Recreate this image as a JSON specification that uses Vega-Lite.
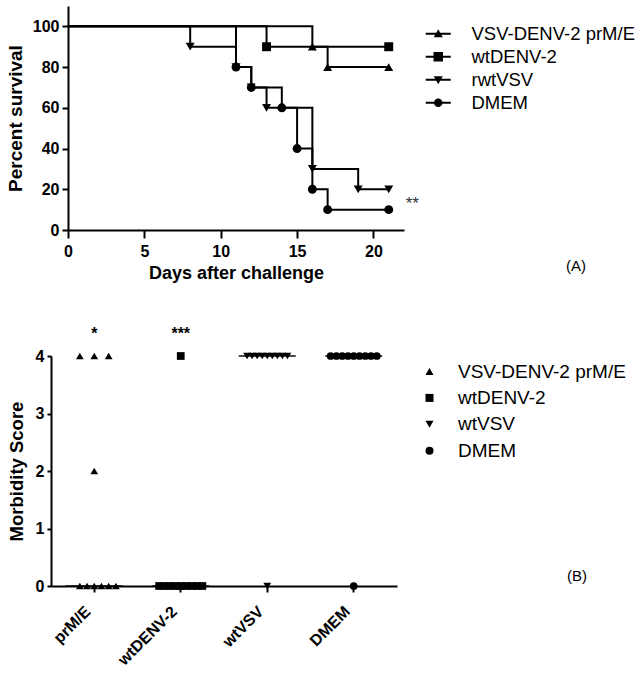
{
  "$schema": "https://vega.github.io/schema/vega-lite/v6.json",
  "padding": {"left": 6, "top": 6, "right": 0, "bottom": 0},
  "background": "white",
  "spacing": 44,
  "resolve": {"scale": {"shape": "independent"}, "legend": {"shape": "independent"}},
  "datasets": {
    "surv": [
      {"group": "VSV-DENV-2 prM/E", "day": 0, "pct": 100},
      {"group": "VSV-DENV-2 prM/E", "day": 16, "pct": 90},
      {"group": "VSV-DENV-2 prM/E", "day": 17, "pct": 80},
      {"group": "VSV-DENV-2 prM/E", "day": 21, "pct": 80},
      {"group": "wtDENV-2", "day": 0, "pct": 100},
      {"group": "wtDENV-2", "day": 13, "pct": 90},
      {"group": "wtDENV-2", "day": 21, "pct": 90},
      {"group": "rwtVSV", "day": 0, "pct": 100},
      {"group": "rwtVSV", "day": 8, "pct": 90},
      {"group": "rwtVSV", "day": 11, "pct": 80},
      {"group": "rwtVSV", "day": 12, "pct": 70},
      {"group": "rwtVSV", "day": 13, "pct": 60},
      {"group": "rwtVSV", "day": 16, "pct": 30},
      {"group": "rwtVSV", "day": 19, "pct": 20},
      {"group": "rwtVSV", "day": 21, "pct": 20},
      {"group": "DMEM", "day": 0, "pct": 100},
      {"group": "DMEM", "day": 11, "pct": 80},
      {"group": "DMEM", "day": 12, "pct": 70},
      {"group": "DMEM", "day": 14, "pct": 60},
      {"group": "DMEM", "day": 15, "pct": 40},
      {"group": "DMEM", "day": 16, "pct": 20},
      {"group": "DMEM", "day": 17, "pct": 10},
      {"group": "DMEM", "day": 21, "pct": 10}
    ],
    "morb": [
      {"group": "prM/E", "legend": "VSV-DENV-2 prM/E", "score": 4, "slot": -2},
      {"group": "prM/E", "legend": "VSV-DENV-2 prM/E", "score": 4, "slot": 0},
      {"group": "prM/E", "legend": "VSV-DENV-2 prM/E", "score": 4, "slot": 2},
      {"group": "prM/E", "legend": "VSV-DENV-2 prM/E", "score": 2, "slot": 0},
      {"group": "prM/E", "legend": "VSV-DENV-2 prM/E", "score": 0, "slot": -2},
      {"group": "prM/E", "legend": "VSV-DENV-2 prM/E", "score": 0, "slot": -1},
      {"group": "prM/E", "legend": "VSV-DENV-2 prM/E", "score": 0, "slot": 0},
      {"group": "prM/E", "legend": "VSV-DENV-2 prM/E", "score": 0, "slot": 1},
      {"group": "prM/E", "legend": "VSV-DENV-2 prM/E", "score": 0, "slot": 2},
      {"group": "prM/E", "legend": "VSV-DENV-2 prM/E", "score": 0, "slot": 3},
      {"group": "wtDENV-2", "legend": "wtDENV-2", "score": 4, "slot": 0},
      {"group": "wtDENV-2", "legend": "wtDENV-2", "score": 0, "slot": -3},
      {"group": "wtDENV-2", "legend": "wtDENV-2", "score": 0, "slot": -2.25},
      {"group": "wtDENV-2", "legend": "wtDENV-2", "score": 0, "slot": -1.5},
      {"group": "wtDENV-2", "legend": "wtDENV-2", "score": 0, "slot": -0.75},
      {"group": "wtDENV-2", "legend": "wtDENV-2", "score": 0, "slot": 0},
      {"group": "wtDENV-2", "legend": "wtDENV-2", "score": 0, "slot": 0.75},
      {"group": "wtDENV-2", "legend": "wtDENV-2", "score": 0, "slot": 1.5},
      {"group": "wtDENV-2", "legend": "wtDENV-2", "score": 0, "slot": 2.25},
      {"group": "wtDENV-2", "legend": "wtDENV-2", "score": 0, "slot": 3},
      {"group": "wtVSV", "legend": "wtVSV", "score": 4, "slot": -2.8},
      {"group": "wtVSV", "legend": "wtVSV", "score": 4, "slot": -2.1},
      {"group": "wtVSV", "legend": "wtVSV", "score": 4, "slot": -1.4},
      {"group": "wtVSV", "legend": "wtVSV", "score": 4, "slot": -0.7},
      {"group": "wtVSV", "legend": "wtVSV", "score": 4, "slot": 0},
      {"group": "wtVSV", "legend": "wtVSV", "score": 4, "slot": 0.7},
      {"group": "wtVSV", "legend": "wtVSV", "score": 4, "slot": 1.4},
      {"group": "wtVSV", "legend": "wtVSV", "score": 4, "slot": 2.1},
      {"group": "wtVSV", "legend": "wtVSV", "score": 4, "slot": 2.8},
      {"group": "wtVSV", "legend": "wtVSV", "score": 0, "slot": 0},
      {"group": "DMEM", "legend": "DMEM", "score": 4, "slot": -3.2},
      {"group": "DMEM", "legend": "DMEM", "score": 4, "slot": -2.4},
      {"group": "DMEM", "legend": "DMEM", "score": 4, "slot": -1.6},
      {"group": "DMEM", "legend": "DMEM", "score": 4, "slot": -0.8},
      {"group": "DMEM", "legend": "DMEM", "score": 4, "slot": 0},
      {"group": "DMEM", "legend": "DMEM", "score": 4, "slot": 0.8},
      {"group": "DMEM", "legend": "DMEM", "score": 4, "slot": 1.6},
      {"group": "DMEM", "legend": "DMEM", "score": 4, "slot": 2.4},
      {"group": "DMEM", "legend": "DMEM", "score": 4, "slot": 3.2},
      {"group": "DMEM", "legend": "DMEM", "score": 0, "slot": 0}
    ],
    "medians": [
      {"group": "prM/E", "median": 0},
      {"group": "wtDENV-2", "median": 0},
      {"group": "wtVSV", "median": 4},
      {"group": "DMEM", "median": 4}
    ],
    "stars": [
      {"group": "prM/E", "score": 4.29, "label": "*"},
      {"group": "wtDENV-2", "score": 4.29, "label": "***"}
    ]
  },
  "config": {
    "view": {"stroke": null},
    "font": "Liberation Sans",
    "axis": {
      "domainColor": "black", "tickColor": "black", "labelColor": "black", "titleColor": "black",
      "domainWidth": 2, "tickWidth": 2, "grid": false,
      "labelFont": "Liberation Sans", "labelFontWeight": "bold", "labelFontSize": 16,
      "titleFont": "Liberation Sans", "titleFontWeight": "bold", "titleFontSize": 18
    }
  },
  "vconcat": [
    {
      "width": 336,
      "height": 224,
      "title": {"text": "(A)", "orient": "bottom", "anchor": "end", "frame": "group", "dx": 182, "dy": -23, "offset": 0, "font": "Liberation Sans", "fontSize": 15, "fontWeight": "normal", "color": "black"},
      "resolve": {"scale": {"shape": "independent"}, "legend": {"shape": "independent"}},
      "layer": [
        {
          "data": {"name": "surv"},
          "mark": {"type": "line", "interpolate": "step-after", "color": "black", "strokeWidth": 2},
          "encoding": {
            "x": {"field": "day", "type": "quantitative", "scale": {"domain": [0, 22], "nice": false},
              "axis": {"values": [0, 5, 10, 15, 20], "title": "Days after challenge", "tickSize": 8, "labelPadding": 5, "titlePadding": 5, "labelFlush": false}},
            "y": {"field": "pct", "type": "quantitative", "scale": {"domain": [0, 110], "nice": false},
              "axis": {"values": [0, 20, 40, 60, 80, 100], "title": "Percent survival", "titleFontSize": 19, "tickSize": 6, "labelPadding": 3, "titlePadding": 7, "labelFlush": false}},
            "detail": {"field": "group"}
          }
        },
        {
          "data": {"name": "surv"},
          "transform": [{"filter": "datum.day > 0"}],
          "mark": {"type": "point", "filled": true, "color": "black", "opacity": 1, "size": 80},
          "encoding": {
            "x": {"field": "day", "type": "quantitative"},
            "y": {"field": "pct", "type": "quantitative"},
            "shape": {
              "field": "group", "type": "nominal",
              "scale": {"domain": ["VSV-DENV-2 prM/E", "wtDENV-2", "rwtVSV", "DMEM"], "range": ["triangle-up", "square", "triangle-down", "circle"]},
              "legend": null
            }
          }
        },
        {
          "data": {"name": "surv"},
          "transform": [{"filter": "false"}],
          "mark": {"type": "point", "filled": true, "color": "black", "opacity": 1},
          "encoding": {
            "x": {"field": "day", "type": "quantitative"},
            "y": {"field": "pct", "type": "quantitative"},
            "shape": {
              "field": "group", "type": "nominal",
              "scale": {"domain": ["VSV-DENV-2 prM/E", "wtDENV-2", "rwtVSV", "DMEM"],
                "range": [
                  "M-2.5,-0.2H2.5V0.2H-2.5ZM0,-0.9L0.9,0.7L-0.9,0.7Z",
                  "M-2.5,-0.2H2.5V0.2H-2.5ZM-0.95,-0.95H0.95V0.95H-0.95Z",
                  "M-2.5,-0.2H2.5V0.2H-2.5ZM0,0.9L-0.9,-0.7L0.9,-0.7Z",
                  "M-2.5,-0.2H2.5V0.2H-2.5ZM0.85,0A0.85,0.85,0,1,1,-0.85,0A0.85,0.85,0,1,1,0.85,0Z"
                ]},
              "legend": {
                "title": null, "orient": "none", "legendX": 361, "legendY": 18.5,
                "symbolSize": 100, "symbolFillColor": "black", "symbolStrokeWidth": 0,
                "labelFontSize": 18.5, "labelFont": "Liberation Sans", "labelColor": "black",
                "labelOffset": 24, "labelLimit": 300, "rowPadding": 4, "padding": 0
              }
            }
          }
        },
        {
          "data": {"values": [{"day": 22.54, "pct": 10.2, "label": "**"}]},
          "mark": {"type": "text", "align": "center", "baseline": "alphabetic", "fontSize": 17, "color": "#333", "font": "Liberation Sans"},
          "encoding": {
            "x": {"field": "day", "type": "quantitative"},
            "y": {"field": "pct", "type": "quantitative"},
            "text": {"field": "label"}
          }
        }
      ]
    },
    {
      "width": 329,
      "height": 230,
      "title": {"text": "(B)", "orient": "bottom", "anchor": "end", "frame": "group", "dx": 190, "dy": -99, "offset": 0, "font": "Liberation Sans", "fontSize": 15, "fontWeight": "normal", "color": "black"},
      "layer": [
        {
          "data": {"name": "medians"},
          "mark": {"type": "tick", "color": "black", "thickness": 2, "size": 57, "orient": "horizontal"},
          "encoding": {
            "x": {"field": "group", "type": "nominal", "sort": ["prM/E", "wtDENV-2", "wtVSV", "DMEM"],
              "scale": {"type": "band", "paddingInner": 0, "paddingOuter": 0, "range": [-17, 329]},
              "axis": {"title": null, "labelAngle": -45, "tickSize": 6, "labelPadding": 11, "labelOffset": -12}},
            "y": {"field": "median", "type": "quantitative", "scale": {"domain": [0, 4], "nice": false},
              "axis": {"values": [0, 1, 2, 3, 4], "format": "d", "title": "Morbidity Score", "titleFontSize": 18.5, "offset": 17, "tickSize": 4, "labelPadding": 3, "titlePadding": 9}}
          }
        },
        {
          "data": {"name": "morb"},
          "mark": {"type": "point", "filled": true, "color": "black", "opacity": 1, "size": 60},
          "encoding": {
            "x": {"field": "group", "type": "nominal", "sort": ["prM/E", "wtDENV-2", "wtVSV", "DMEM"]},
            "xOffset": {"field": "slot", "type": "quantitative", "scale": {"domain": [-6, 6]}},
            "y": {"field": "score", "type": "quantitative"},
            "shape": {
              "field": "legend", "type": "nominal",
              "scale": {"domain": ["VSV-DENV-2 prM/E", "wtDENV-2", "wtVSV", "DMEM"], "range": ["triangle-up", "square", "triangle-down", "circle"]},
              "legend": {
                "title": null, "orient": "none", "legendX": 352, "legendY": 6,
                "symbolSize": 64, "symbolFillColor": "black", "symbolStrokeColor": "black",
                "labelFontSize": 19, "labelFont": "Liberation Sans", "labelColor": "black",
                "labelOffset": 19, "labelLimit": 300, "rowPadding": 6.4, "padding": 0
              }
            }
          }
        },
        {
          "data": {"name": "stars"},
          "mark": {"type": "text", "align": "center", "baseline": "alphabetic", "fontSize": 16, "fontWeight": "bold", "color": "black", "font": "Liberation Sans"},
          "encoding": {
            "x": {"field": "group", "type": "nominal", "sort": ["prM/E", "wtDENV-2", "wtVSV", "DMEM"]},
            "y": {"field": "score", "type": "quantitative"},
            "text": {"field": "label"}
          }
        }
      ]
    }
  ]
}
